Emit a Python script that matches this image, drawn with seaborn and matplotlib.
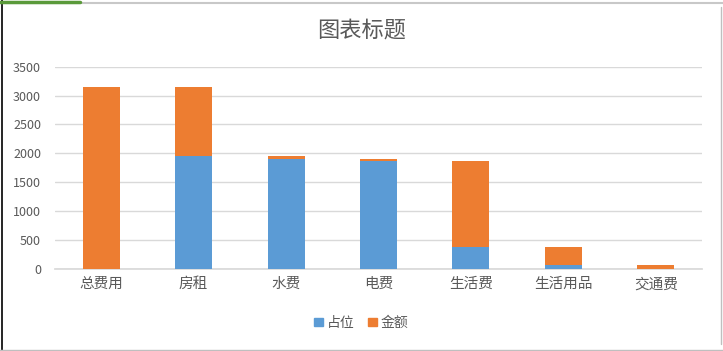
import matplotlib
matplotlib.use("Agg")
import matplotlib.pyplot as plt
import matplotlib.patches as mpatches
from matplotlib.lines import Line2D
import pandas as pd
import seaborn as sns

# 数据
categories = ['总费用', '房租', '水费', '电费', '生活费', '生活用品', '交通费']
placeholder = [0, 1950, 1900, 1870, 370, 70, 0]     # 占位
amount = [3150, 1200, 50, 30, 1500, 300, 70]         # 金额
series_names = ['占位', '金额']
title = '图表标题'

blue = '#5B9BD5'
orange = '#ED7D31'
text_color = '#595959'

sns.set_theme(style='white')
plt.rcParams['font.family'] = ['Noto Sans CJK SC', 'DejaVu Sans']

df = pd.DataFrame({'cat': categories, 'ph': placeholder, 'amt': amount})
df['total'] = df['ph'] + df['amt']

fig = plt.figure(figsize=(7.23, 3.51), dpi=100)
ax = fig.add_axes([0.076, 0.234, 0.895, 0.576])

# 堆叠：先画总高度（金额颜色），再覆盖占位部分
sns.barplot(data=df, x='cat', y='total', color=orange, width=0.4,
            saturation=1, linewidth=0, ax=ax, zorder=3)
sns.barplot(data=df, x='cat', y='ph', color=blue, width=0.4,
            saturation=1, linewidth=0, ax=ax, zorder=4)

ax.set_ylim(0, 3500)
ax.set_xlim(-0.5, len(categories) - 0.5)
ax.set_yticks(range(0, 3501, 500))
ax.yaxis.grid(True, color='#D9D9D9', linewidth=1, zorder=0)
ax.set_axisbelow(True)
for s in ['top', 'right', 'left']:
    ax.spines[s].set_visible(False)
ax.spines['bottom'].set_color('#D9D9D9')
ax.set_xlabel('')
ax.set_ylabel('')
ax.tick_params(axis='y', length=0, labelsize=9, colors=text_color, pad=10)
ax.tick_params(axis='x', length=0, labelsize=10.5, colors=text_color, pad=6)

fig.text(0.5, 0.915, title, ha='center', va='center', fontsize=16,
         color=text_color)

handles = [mpatches.Patch(color=blue, label=series_names[0]),
           mpatches.Patch(color=orange, label=series_names[1])]
leg = fig.legend(handles=handles, loc='center', bbox_to_anchor=(0.5, 0.08),
                 ncol=2, frameon=False, fontsize=10, handlelength=0.6,
                 handleheight=0.6, handletextpad=0.3, columnspacing=1.0)
for t in leg.get_texts():
    t.set_color(text_color)

# 表格背景线
fig.add_artist(Line2D([0.003, 0.003], [0, 1], color='black', linewidth=1.2))
fig.add_artist(Line2D([0.997, 0.997], [0.02, 0.98], color='#BFBFBF', linewidth=1))
fig.add_artist(Line2D([0, 1], [0.992, 0.992], color='#C8C8C8', linewidth=1.5))
fig.add_artist(Line2D([0, 0.11], [0.994, 0.994], color='#5A9A3A', linewidth=2.5))
fig.add_artist(Line2D([0, 1], [0.003, 0.003], color='#BFBFBF', linewidth=1))

fig.savefig('out.png', dpi=100)
